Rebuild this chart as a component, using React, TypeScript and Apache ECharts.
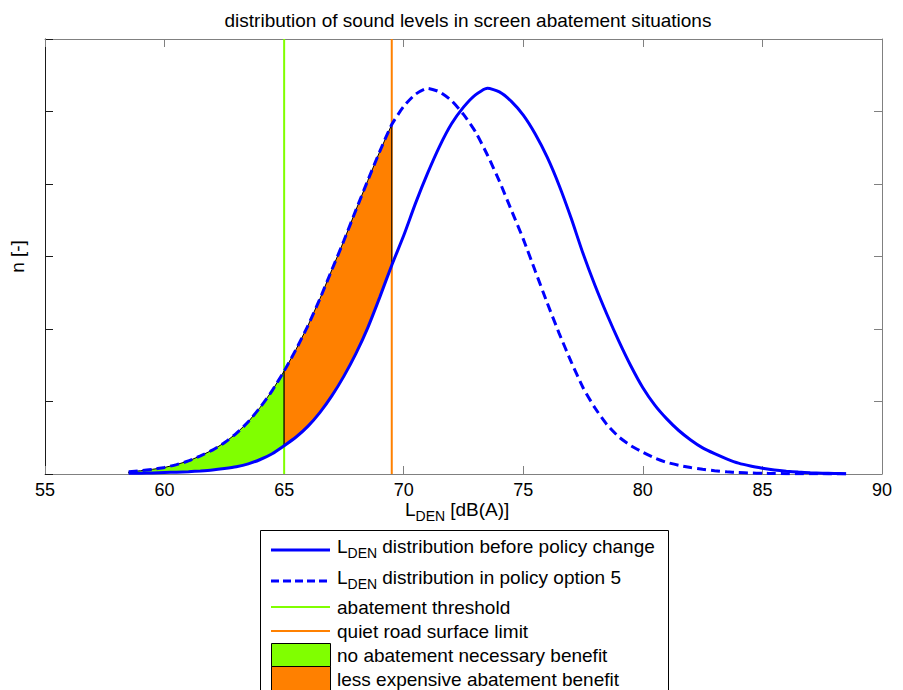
import React, { useEffect, useRef } from "react";
import * as echarts from "echarts";

// ---- data ----
const LEVELS = [
  58.5, 59, 59.5, 60, 60.5, 61, 61.5, 62, 62.5, 63, 63.5, 64, 64.5, 65, 65.5, 66, 66.5, 67, 67.5, 68,
  68.5, 69, 69.5, 70, 70.5, 71, 71.5, 72, 72.5, 73, 73.5, 74, 74.5, 75, 75.5, 76, 76.5, 77, 77.5, 78,
  78.5, 79, 79.5, 80, 80.5, 81, 81.5, 82, 82.5, 83, 83.5, 84, 84.5, 85, 85.5, 86, 86.5, 87, 87.5, 88, 88.5,
];
const BEFORE_POLICY = [
  0.01, 0.012, 0.015, 0.02, 0.025, 0.032, 0.042, 0.055, 0.075, 0.1, 0.14, 0.2, 0.28, 0.39, 0.51, 0.66, 0.85, 1.08, 1.35, 1.66,
  2.02, 2.44, 2.88, 3.29, 3.74, 4.15, 4.52, 4.83, 5.06, 5.23, 5.32, 5.27, 5.14, 4.95, 4.69, 4.37, 3.98, 3.53, 3.04, 2.6,
  2.2, 1.83, 1.49, 1.19, 0.95, 0.76, 0.6, 0.47, 0.36, 0.28, 0.21, 0.15, 0.11, 0.08, 0.055, 0.038, 0.026, 0.018, 0.012, 0.008, 0.005,
];
const POLICY_OPTION_5 = [
  0.03, 0.045, 0.065, 0.09, 0.13, 0.18, 0.25, 0.33, 0.43, 0.56, 0.72, 0.92, 1.15, 1.42, 1.72, 2.05, 2.42, 2.82, 3.22, 3.64,
  4.05, 4.45, 4.82, 5.07, 5.24, 5.32, 5.27, 5.15, 4.96, 4.72, 4.4, 4.04, 3.64, 3.24, 2.8, 2.36, 1.94, 1.55, 1.19, 0.91,
  0.68, 0.51, 0.39, 0.3, 0.22, 0.16, 0.12, 0.09, 0.065, 0.045, 0.03, 0.02, 0.014, 0.01, 0.007, 0.005, 0.004, 0.003, 0.002, 0.001, 0.001,
];
const ABATEMENT_THRESHOLD = 65;
const QUIET_ROAD_LIMIT = 69.5;
const X_MIN = 55;
const X_MAX = 90;
const X_STEP = 5;
const Y_MIN = 0;
const Y_MAX = 6;
const Y_STEP = 1;

const TITLE = "distribution of sound levels in screen abatement situations";
const NAME_BEFORE = "LDEN distribution before policy change";
const NAME_OPTION5 = "LDEN distribution in policy option 5";
const NAME_THRESHOLD = "abatement threshold";
const NAME_LIMIT = "quiet road surface limit";
const NAME_NO_ABATEMENT = "no abatement necessary benefit";
const NAME_LESS_EXPENSIVE = "less expensive abatement benefit";
const X_NAME_REST = " [dB(A)]";

const BLUE = "#0000ff";
const GREEN = "#80ff00";
const ORANGE = "#ff8000";
const FONT = "Liberation Sans, Arial, Helvetica, sans-serif";
const FS = 19;
const FS_SUB = 14;

function band(lo: number, hi: number): number[][] {
  const top: number[][] = [];
  const bottom: number[][] = [];
  LEVELS.forEach((x, i) => {
    if (x >= lo && x <= hi) {
      top.push([x, POLICY_OPTION_5[i]]);
      bottom.push([x, BEFORE_POLICY[i]]);
    }
  });
  return top.concat(bottom.reverse());
}

function bandSeries(name: string, lo: number, hi: number, color: string) {
  const pts = band(lo, hi);
  return {
    name,
    type: "custom",
    z: 2,
    silent: true,
    data: [[lo, 0]],
    renderItem: (_params: any, api: any) => ({
      type: "polygon",
      shape: { points: pts.map((p) => api.coord(p)) },
      style: { fill: color, stroke: "#000", lineWidth: 1 },
    }),
  };
}

const font = (s: number) => `${s}px ${FONT}`;

function legendGraphic() {
  const lx0 = 271;
  const lx1 = 330;
  const tx = 337;
  const els: any[] = [];
  els.push({
    type: "rect",
    shape: { x: 260.5, y: 530.5, width: 408, height: 175 },
    style: { fill: "#fff", stroke: "#000", lineWidth: 1 },
  });
  const subText = (x: number, y: number, rest: string) => {
    els.push({ type: "text", x, y, style: { text: "L", font: font(FS), fill: "#000", verticalAlign: "middle" } });
    els.push({ type: "text", x: x + 10.6, y: y + 7, style: { text: "DEN", font: font(FS_SUB), fill: "#000", verticalAlign: "middle" } });
    els.push({ type: "text", x: x + 40, y, style: { text: rest, font: font(FS), fill: "#000", verticalAlign: "middle" } });
  };
  const plain = (y: number, t: string) =>
    els.push({ type: "text", x: tx, y, style: { text: t, font: font(FS), fill: "#000", verticalAlign: "middle" } });

  els.push({ type: "line", shape: { x1: lx0, y1: 550, x2: lx1, y2: 550 }, style: { stroke: BLUE, lineWidth: 3 } });
  subText(tx, 546, NAME_BEFORE.slice(4));
  els.push({ type: "line", shape: { x1: lx0, y1: 581, x2: lx1, y2: 581 }, style: { stroke: BLUE, lineWidth: 3, lineDash: [8, 4] } });
  subText(tx, 577, NAME_OPTION5.slice(4));
  els.push({ type: "line", shape: { x1: lx0, y1: 607, x2: lx1, y2: 607 }, style: { stroke: GREEN, lineWidth: 2 } });
  plain(607, NAME_THRESHOLD);
  els.push({ type: "line", shape: { x1: lx0, y1: 631, x2: lx1, y2: 631 }, style: { stroke: ORANGE, lineWidth: 2 } });
  plain(631, NAME_LIMIT);
  els.push({ type: "rect", shape: { x: lx0 + 0.5, y: 643.5, width: lx1 - lx0, height: 23 }, style: { fill: GREEN, stroke: "#000", lineWidth: 1 } });
  plain(655, NAME_NO_ABATEMENT);
  els.push({ type: "rect", shape: { x: lx0 + 0.5, y: 666.5, width: lx1 - lx0, height: 24 }, style: { fill: ORANGE, stroke: "#000", lineWidth: 1 } });
  plain(679, NAME_LESS_EXPENSIVE);

  // x axis name with subscript
  subText(405, 509, X_NAME_REST);
  return els;
}

export default function App() {
  const ref = useRef<HTMLDivElement>(null);
  useEffect(() => {
    if (!ref.current) return;
    const chart = echarts.init(ref.current, null, { renderer: "svg" });
    const gray = "#808080";
    const dark = "#1a1a1a";
    const xBase = {
      type: "value",
      min: X_MIN,
      max: X_MAX,
      interval: X_STEP,
      splitLine: { show: false },
    };
    const yBase = {
      type: "value",
      min: Y_MIN,
      max: Y_MAX,
      interval: Y_STEP,
      splitLine: { show: false },
      axisLabel: { show: false },
    };
    chart.setOption({
      animation: false,
      backgroundColor: "#fff",
      textStyle: { fontFamily: FONT },
      title: {
        text: TITLE,
        left: 463,
        top: 6,
        textAlign: "center",
        textStyle: { fontSize: FS, fontWeight: "normal", color: "#000", fontFamily: FONT },
      },
      grid: { left: 45, right: 21, top: 39, bottom: 216, containLabel: false },
      xAxis: [
        {
          ...xBase,
          position: "bottom",
          axisLine: { show: true, onZero: false, lineStyle: { color: gray, width: 1 } },
          axisTick: { show: true, inside: true, length: 8, lineStyle: { color: gray } },
          axisLabel: { show: true, color: "#000", fontSize: 18, margin: 7, fontFamily: FONT },
        },
        {
          ...xBase,
          position: "top",
          axisLine: { show: true, onZero: false, lineStyle: { color: gray, width: 1 } },
          axisTick: { show: true, inside: true, length: 8, lineStyle: { color: gray } },
          axisLabel: { show: false },
        },
      ],
      yAxis: [
        {
          ...yBase,
          position: "left",
          name: "n [-]",
          nameLocation: "middle",
          nameGap: 18,
          nameRotate: 90,
          nameTextStyle: { color: "#000", fontSize: FS, fontFamily: FONT },
          axisLine: { show: true, onZero: false, lineStyle: { color: dark, width: 1 } },
          axisTick: { show: true, inside: true, length: 8, lineStyle: { color: dark } },
        },
        {
          ...yBase,
          position: "right",
          axisLine: { show: true, onZero: false, lineStyle: { color: gray, width: 1 } },
          axisTick: { show: true, inside: true, length: 8, lineStyle: { color: gray } },
        },
      ],
      graphic: legendGraphic(),
      series: [
        {
          name: NAME_THRESHOLD,
          type: "line",
          z: 1,
          silent: true,
          symbol: "none",
          data: [
            [ABATEMENT_THRESHOLD, Y_MIN],
            [ABATEMENT_THRESHOLD, Y_MAX],
          ],
          lineStyle: { color: GREEN, width: 2 },
        },
        {
          name: NAME_LIMIT,
          type: "line",
          z: 1,
          silent: true,
          symbol: "none",
          data: [
            [QUIET_ROAD_LIMIT, Y_MIN],
            [QUIET_ROAD_LIMIT, Y_MAX],
          ],
          lineStyle: { color: ORANGE, width: 2 },
        },
        bandSeries(NAME_NO_ABATEMENT, LEVELS[0], ABATEMENT_THRESHOLD, GREEN),
        bandSeries(NAME_LESS_EXPENSIVE, ABATEMENT_THRESHOLD, QUIET_ROAD_LIMIT, ORANGE),
        {
          name: NAME_BEFORE,
          type: "line",
          z: 3,
          symbol: "none",
          smooth: 0.2,
          data: LEVELS.map((x, i) => [x, BEFORE_POLICY[i]]),
          lineStyle: { color: BLUE, width: 3 },
        },
        {
          name: NAME_OPTION5,
          type: "line",
          z: 3,
          symbol: "none",
          smooth: 0.2,
          data: LEVELS.map((x, i) => [x, POLICY_OPTION_5[i]]),
          lineStyle: { color: BLUE, width: 3, type: [9, 5] },
        },
      ],
    });
    return () => chart.dispose();
  }, []);
  return <div ref={ref} style={{ width: 903, height: 690, position: "absolute", left: 0, top: 0 }} />;
}
